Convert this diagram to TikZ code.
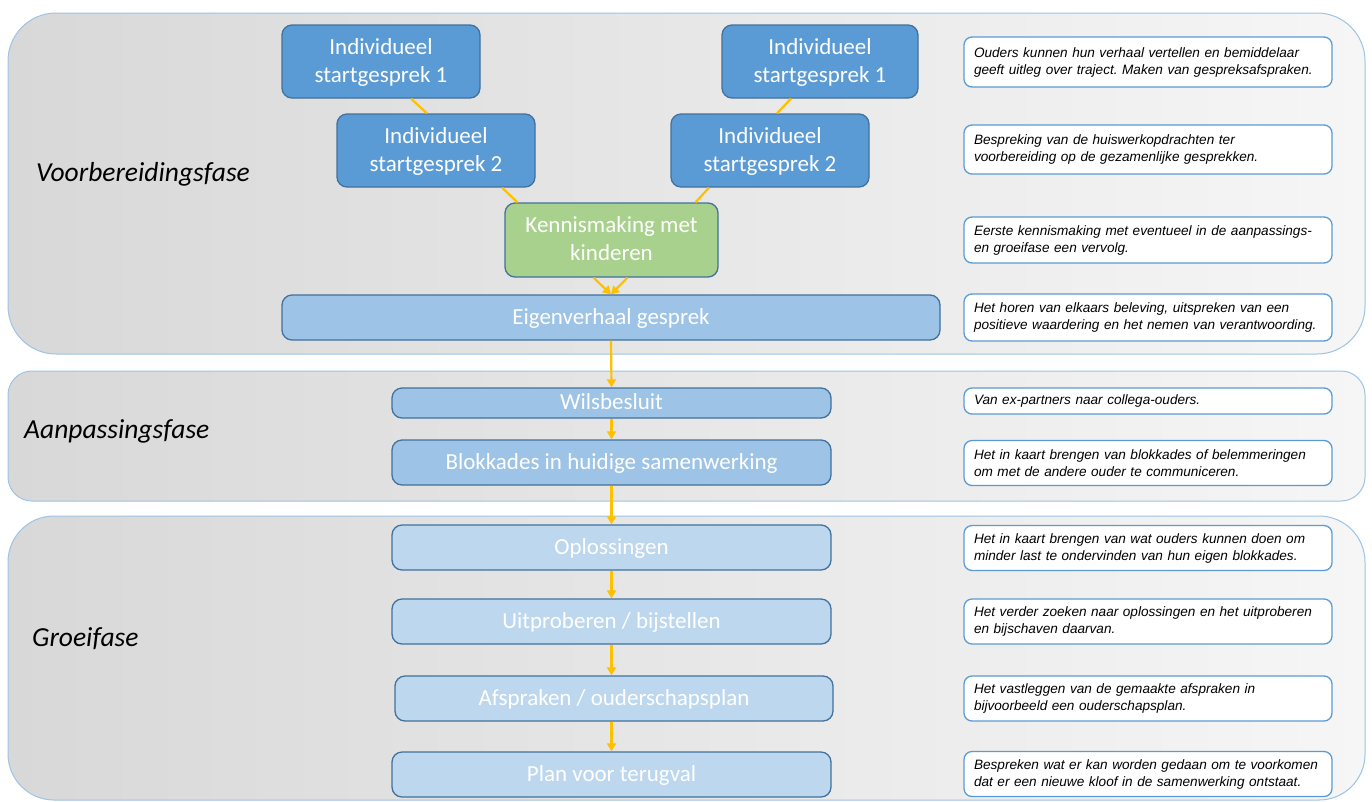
\documentclass[tikz,border=0pt]{standalone}
\usepackage{fontspec}
\setmainfont{Carlito}
\newfontfamily\descfont{Liberation Sans}
\usetikzlibrary{arrows.meta,calc}

\definecolor{bandline}{HTML}{9DC3E6}
\definecolor{bandleft}{HTML}{D8D8D8}
\definecolor{bandright}{HTML}{F6F6F6}
\definecolor{darkbox}{HTML}{5B9BD5}
\definecolor{midbox}{HTML}{9DC3E6}
\definecolor{lightbox}{HTML}{BDD7EE}
\definecolor{greenbox}{HTML}{A9D18E}
\definecolor{boxline}{HTML}{41719C}
\definecolor{descline}{HTML}{5B9BD5}
\definecolor{connector}{HTML}{FFC000}

\newcommand\desctext{\descfont\itshape\fontsize{13.6}{17}\selectfont
  \frenchspacing\hyphenpenalty=10000\relax}

\begin{document}
\begin{tikzpicture}
      [
        x=1pt, y=-1pt,
        band/.style={draw=bandline, line width=1pt, left color=bandleft, right color=bandright},
        phase/.style={anchor=west, inner sep=0pt, font=\fontsize{27.5}{32}\selectfont\itshape},
        stepbox/.style={draw=boxline, line width=1.3pt, rounded corners=10pt, text=white,
          align=center, inner sep=0pt, text depth=2pt, font=\fontsize{23}{28}\selectfont},
        descbox/.style={draw=descline, fill=white, line width=1.3pt, rounded corners=8pt,
          text width=348pt, inner xsep=10pt, inner ysep=0pt, align=left, font=\desctext},
        link/.style={draw=connector, line width=2.2pt},
        flow/.style={link, -{Triangle[width=9pt,length=8pt]}}
      ]

      \useasboundingbox (0,0) rectangle (1372,801);

      % phases
      \draw[band, rounded corners=48pt] (8,13) rectangle (1365,354);
      \draw[band, rounded corners=24pt] (8,371) rectangle (1365,501);
      \draw[band, rounded corners=46pt] (8,516) rectangle (1365,800);
      \node[phase] (vfase) at (36,174) {Voorbereidingsfase};
      \node[phase] (afase) at (24,431) {Aanpassingsfase};
      \node[phase] (gfase) at (32,639) {Groeifase};

      % steps
      \node[stepbox, fill=darkbox, minimum width=198pt, minimum height=73pt] (is1l) at (381,61.5) {Individueel\\startgesprek 1};
      \node[stepbox, fill=darkbox, minimum width=196pt, minimum height=73pt] (is1r) at (820,61.5) {Individueel\\startgesprek 1};
      \node[stepbox, fill=darkbox, minimum width=198pt, minimum height=73pt] (is2l) at (436,150.5) {Individueel\\startgesprek 2};
      \node[stepbox, fill=darkbox, minimum width=198pt, minimum height=73pt] (is2r) at (770,150.5) {Individueel\\startgesprek 2};
      \node[stepbox, fill=greenbox, minimum width=213pt, minimum height=74pt] (kenn) at (611.5,240) {Kennismaking met\\kinderen};
      \node[stepbox, fill=midbox, minimum width=658pt, minimum height=45pt] (eig) at (611,317.5) {Eigenverhaal gesprek};
      \node[stepbox, fill=midbox, minimum width=439pt, minimum height=30pt] (wils) at (611.5,403) {Wilsbesluit};
      \node[stepbox, fill=midbox, minimum width=439pt, minimum height=45pt] (blok) at (611.5,462.5) {Blokkades in huidige samenwerking};
      \node[stepbox, fill=lightbox, minimum width=439pt, minimum height=45pt] (opl) at (611.5,547.5) {Oplossingen};
      \node[stepbox, fill=lightbox, minimum width=439pt, minimum height=45pt] (uit) at (611.5,621.5) {Uitproberen / bijstellen};
      \node[stepbox, fill=lightbox, minimum width=438pt, minimum height=45pt] (afs) at (614,698.5) {Afspraken / ouderschapsplan};
      \node[stepbox, fill=lightbox, minimum width=439pt, minimum height=45pt] (plan) at (611.5,774.5) {Plan voor terugval};

      % descriptions
      \node[descbox, minimum height=50pt] (d1) at (1148,62) {Ouders kunnen hun verhaal vertellen en bemiddelaar\\geeft uitleg over traject. Maken van gespreksafspraken.};
      \node[descbox, minimum height=49pt] (d2) at (1148,149.5) {Bespreking van de huiswerkopdrachten ter\\voorbereiding op de gezamenlijke gesprekken.};
      \node[descbox, minimum height=46pt] (d3) at (1148,240) {Eerste kennismaking met eventueel in de aanpassings-\\en groeifase een vervolg.};
      \node[descbox, minimum height=47pt] (d4) at (1148,317.5) {Het horen van elkaars beleving, uitspreken van een\\positieve waardering en het nemen van verantwoording.};
      \node[descbox, minimum height=26pt] (d5) at (1148,401) {Van ex-partners naar collega-ouders.};
      \node[descbox, minimum height=45pt] (d6) at (1148,463) {Het in kaart brengen van blokkades of belemmeringen\\om met de andere ouder te communiceren.};
      \node[descbox, minimum height=45pt] (d7) at (1148,548) {Het in kaart brengen van wat ouders kunnen doen om\\minder last te ondervinden van hun eigen blokkades.};
      \node[descbox, minimum height=45pt] (d8) at (1148,621.5) {Het verder zoeken naar oplossingen en het uitproberen\\en bijschaven daarvan.};
      \node[descbox, minimum height=45pt] (d9) at (1148,698.5) {Het vastleggen van de gemaakte afspraken in\\bijvoorbeeld een ouderschapsplan.};
      \node[descbox, minimum height=45pt] (d10) at (1148,774) {Bespreken wat er kan worden gedaan om te voorkomen\\dat er een nieuwe kloof in de samenwerking ontstaat.};

      % connectors
      \draw[link] ([xshift=30pt]is1l.south) -- ([xshift=-9pt]is2l.north);
      \draw[link] ([xshift=66pt]is2l.south) -- ([xshift=-94pt]kenn.north);
      \draw[link] ([xshift=-29pt]is1r.south) -- ([xshift=7pt]is2r.north);
      \draw[link] ([xshift=-61pt]is2r.south) -- ([xshift=84pt]kenn.north);
      \draw[flow] ([xshift=-18pt]kenn.south) -- (eig.north);
      \draw[flow] ([xshift=16pt]kenn.south) -- (eig.north);
      \draw[flow] (eig.south) -- (wils.north);
      \draw[flow] (wils.south) -- (blok.north);
      \draw[flow] (blok.south) -- (opl.north);
      \draw[flow] (opl.south) -- (uit.north);
      \draw[flow] (uit.south) -- (uit.south |- afs.north);
      \draw[flow] (uit.south |- afs.south) -- (uit.south |- plan.north);

    \end{tikzpicture}
\end{document}
